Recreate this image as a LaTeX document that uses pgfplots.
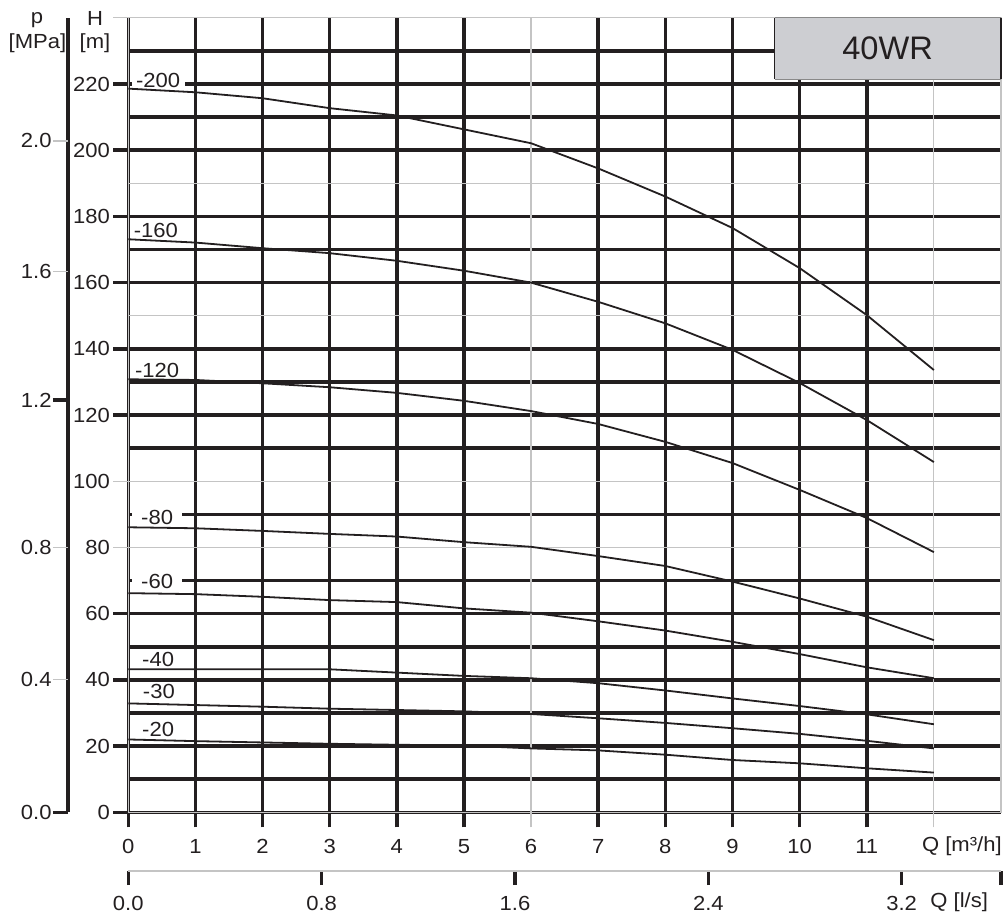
\documentclass[border=0pt]{standalone}
\usepackage{fontspec}
\setmainfont{Liberation Sans}
\newfontfamily\lblfont[FakeStretch=1.08]{Liberation Sans}
\usepackage{pgfplots}
\pgfplotsset{compat=1.18}
\definecolor{ink}{HTML}{231F20}
\definecolor{lgray}{HTML}{C4C4C4}
\definecolor{boxgray}{HTML}{CDCED2}
\pgfplotsset{
  every non boxed x axis/.style={},
  every non boxed y axis/.style={},
}
\newcommand{\tl}{\lblfont\fontsize{10.2}{12}\selectfont}
\begin{document}
\begin{tikzpicture}
\path[use as bounding box] (-64.15pt,-51.35pt) rectangle (437.85pt,406.15pt);

% ---------- main H-Q axis ----------
\begin{axis}[
  at={(0pt,0pt)}, anchor=south west,
  scale only axis, width=436.35pt, height=397.25pt,
  xmin=0, xmax=13, ymin=0, ymax=240,
  axis line style={draw=lgray, line width=0.6pt},
  tick pos=left,
  tick align=outside,
  major tick length=7.5pt,
  minor tick length=0pt,
  grid=both,
  major grid style={draw=ink, line width=1.8pt},
  minor grid style={draw=ink, line width=1.8pt},
  major tick style={draw=ink, line width=1.8pt},
  xtick={0,1,2,3,4,5,7,8,9,10,11},
  xticklabels={0,1,2,3,4,5,7,8,9,10,11},
  ytick={0,20,40,60,120,140,160,180,200,220},
  yticklabels={0,20,40,60,120,140,160,180,200,220},
  minor ytick={10,30,50,70,90,110,130,170,210,230},
  extra x ticks={6,12},
  extra x tick labels={6,{}},
  extra y ticks={80,100,240},
  extra y tick labels={80,100,{}},
  extra tick style={major grid style={draw=lgray, line width=0.6pt},
                    major tick style={draw=lgray, line width=0.6pt}},
  ticklabel style={font=\tl, text=ink},
  xticklabel style={yshift=-2.5pt},
  yticklabel style={inner sep=1pt, xshift=-0.5pt},
  /pgf/number format/assume math mode=true,
  clip mode=individual,
]
% thin grey grid lines without ticks
\addplot[lgray, line width=0.6pt] coordinates {(0,150) (13,150)};
\addplot[lgray, line width=0.6pt] coordinates {(0,190) (13,190)};

% curve labels
\node[fill=white, inner xsep=2.2pt, inner ysep=1.2pt, font=\tl, text=ink] at (axis cs:0.444,221.2) {-200};
\node[inner sep=1pt, font=\tl, text=ink] at (axis cs:0.41,175.9) {-160};
\node[inner sep=1pt, font=\tl, text=ink] at (axis cs:0.43,133.4) {-120};
\node[fill=white, inner xsep=4.5pt, inner ysep=1.2pt, font=\tl, text=ink] at (axis cs:0.43,89.1) {-80};
\node[fill=white, inner xsep=4.5pt, inner ysep=1.2pt, font=\tl, text=ink] at (axis cs:0.43,69.8) {-60};
\node[inner sep=1pt, font=\tl, text=ink] at (axis cs:0.444,46.2) {-40};
\node[inner sep=1pt, font=\tl, text=ink] at (axis cs:0.455,36.6) {-30};
\node[inner sep=1pt, font=\tl, text=ink] at (axis cs:0.444,25.1) {-20};

% model box
\fill[boxgray] (axis cs:9.63,221.5) rectangle (axis cs:13,240);
\draw[lgray!70!black, line width=0.5pt] (axis cs:9.63,221.5) -- (axis cs:13,221.5);
\draw[lgray!70!black, line width=0.5pt] (axis cs:9.63,240) -- (axis cs:13,240);
\draw[ink, line width=0.7pt] (axis cs:9.63,221.5) -- (axis cs:9.63,240);
\draw[ink, line width=0.7pt] (axis cs:13,221.5) -- (axis cs:13,240);
\node[font=\fontsize{16.3}{19}\selectfont, text=ink] at (axis cs:11.31,230.9) {40WR};

% pump curves
\addplot[ink, line width=0.9pt] coordinates {
 (0,218.6) (1,217.5) (2,215.7) (3,212.7) (4,210.5) (5,206.3) (6,202.1)
 (7,194.5) (8,186.0) (9,176.5) (10,164.4) (11,150.2) (12,133.6)};
\addplot[ink, line width=0.9pt] coordinates {
 (0,173.1) (1,172.1) (2,170.4) (3,168.9) (4,166.6) (5,163.6) (6,160.0)
 (7,154.2) (8,147.7) (9,139.7) (10,129.7) (11,118.5) (12,105.8)};
\addplot[ink, line width=0.9pt] coordinates {
 (0,130.8) (1,130.6) (2,129.6) (3,128.4) (4,126.7) (5,124.3) (6,121.2)
 (7,117.3) (8,111.9) (9,105.5) (10,97.4) (11,88.9) (12,78.6)};
\addplot[ink, line width=0.9pt] coordinates {
 (0,86.1) (1,85.8) (2,85.0) (3,84.1) (4,83.3) (5,81.6) (6,80.2)
 (7,77.4) (8,74.4) (9,69.7) (10,64.6) (11,59.1) (12,52.0)};
\addplot[ink, line width=0.9pt] coordinates {
 (0,66.2) (1,65.9) (2,65.1) (3,64.1) (4,63.5) (5,61.6) (6,60.3)
 (7,57.7) (8,54.9) (9,51.5) (10,47.8) (11,43.8) (12,40.5)};
\addplot[ink, line width=0.9pt] coordinates {
 (0,43.2) (1,43.2) (2,43.2) (3,43.2) (4,42.2) (5,41.2) (6,40.5)
 (7,39.0) (8,36.8) (9,34.4) (10,32.1) (11,29.6) (12,26.6)};
\addplot[ink, line width=0.9pt] coordinates {
 (0,32.9) (1,32.4) (2,31.9) (3,31.3) (4,30.9) (5,30.5) (6,29.7)
 (7,28.4) (8,27.0) (9,25.4) (10,23.7) (11,21.6) (12,19.3)};
\addplot[ink, line width=0.9pt] coordinates {
 (0,22.0) (1,21.5) (2,21.1) (3,20.7) (4,20.4) (5,20.2) (6,19.3)
 (7,18.7) (8,17.4) (9,15.8) (10,14.8) (11,13.3) (12,12.0)};
\end{axis}

% ---------- pressure axis (MPa) ----------
\begin{axis}[
  at={(-30.15pt,0pt)}, anchor=south west,
  scale only axis, width=20pt, height=397.25pt,
  xmin=0, xmax=1, ymin=0, ymax=240,
  axis x line=none,
  axis y line*=left,
  y axis line style={draw=ink, line width=1.8pt, -},
  ytick={0,124.5}, yticklabels={0.0,1.2},
  extra y ticks={40.2,80,163.3,202.8},
  extra y tick labels={0.4,0.8,1.6,2.0},
  extra y tick style={major tick style={draw=lgray, line width=0.6pt}},
  ytick align=outside, major tick length=7.5pt,
  major tick style={draw=ink, line width=1.8pt},
  ticklabel style={font=\tl, text=ink},
  yticklabel style={inner sep=0.5pt},
]
\end{axis}

% ---------- flow axis (l/s) ----------
\begin{axis}[
  at={(0pt,-29.35pt)}, anchor=south west,
  scale only axis, width=436.35pt, height=10pt,
  xmin=0, xmax=3.61111, ymin=0, ymax=1,
  axis y line=none,
  axis x line*=bottom,
  x axis line style={draw=lgray, line width=0.6pt, -},
  xtick={0,0.8,1.6,2.4,3.2,3.61111},
  xticklabels={0.0,0.8,1.6,2.4,3.2,{}},
  xtick align=outside, major tick length=7pt,
  major tick style={draw=ink, line width=1.8pt},
  ticklabel style={font=\tl, text=ink},
  xticklabel style={yshift=-2pt},
]
\end{axis}

% ---------- axis titles ----------
\node[font=\tl, anchor=base, inner sep=0pt, text=ink] at (-45.65pt,394.4pt) {p};
\node[font=\tl, anchor=base, inner sep=0pt, text=ink] at (-45.4pt,381.65pt) {[MPa]};
\node[font=\tl, anchor=base, inner sep=0pt, text=ink] at (-16.65pt,393.15pt) {H};
\node[font=\tl, anchor=base, inner sep=0pt, text=ink] at (-16.65pt,381.65pt) {[m]};
\node[font=\tl, anchor=base west, inner sep=0pt, text=ink] at (396.7pt,-19.35pt) {Q [m³/h]};
\node[font=\tl, anchor=base west, inner sep=0pt, text=ink] at (400.85pt,-47.5pt) {Q [l/s]};
\end{tikzpicture}
\end{document}
